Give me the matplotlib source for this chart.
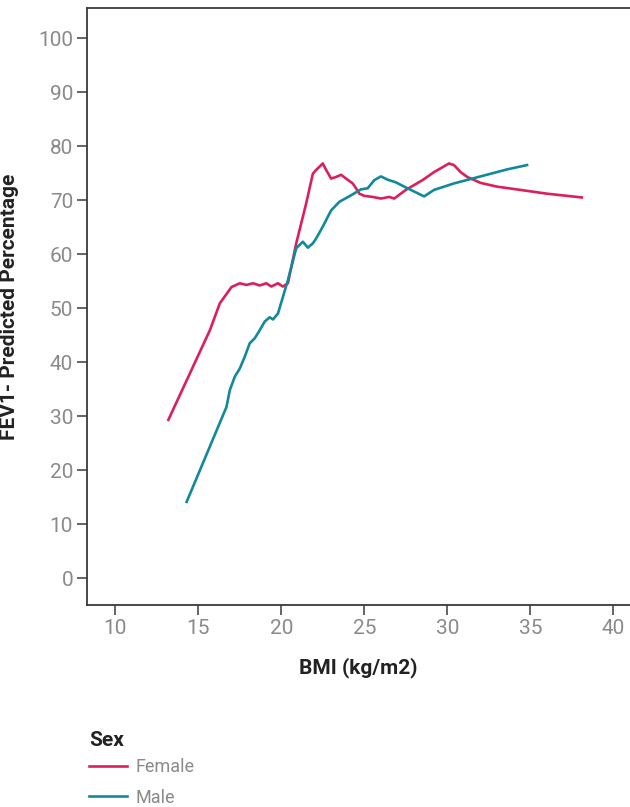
import matplotlib
matplotlib.use("Agg")
import matplotlib.pyplot as plt

plt.rcParams["font.family"] = ["Roboto", "DejaVu Sans"]

# BMI (kg/m2) vs FEV1 predicted percentage
female_bmi = [13.2, 15.7, 16.3, 17.0, 17.5, 17.9, 18.3, 18.7, 19.1, 19.4, 19.8,
              20.1, 20.4, 20.9, 21.5, 21.9, 22.1, 22.5, 22.7, 23.0, 23.3, 23.6,
              23.9, 24.3, 24.5, 24.7, 25.0, 25.5, 26.0, 26.5, 26.8, 27.5, 28.5,
              29.2, 30.1, 30.4, 30.8, 31.2, 32.0, 33.0, 34.4, 36.0, 38.1]
female_fev = [29.3, 45.9, 50.9, 53.9, 54.6, 54.3, 54.6, 54.2, 54.6, 54.0, 54.6,
              54.0, 54.6, 62.0, 69.4, 74.9, 75.6, 76.8, 75.6, 74.0, 74.3, 74.7,
              74.0, 73.1, 72.2, 71.2, 70.8, 70.6, 70.3, 70.6, 70.3, 71.9, 73.7,
              75.2, 76.8, 76.5, 75.2, 74.3, 73.2, 72.5, 71.9, 71.2, 70.5]

male_bmi = [14.3, 16.7, 16.9, 17.2, 17.5, 17.8, 18.1, 18.4, 18.7, 19.0, 19.3,
            19.5, 19.8, 20.1, 20.4, 20.9, 21.3, 21.6, 21.9, 22.1, 22.5, 23.0,
            23.5, 24.2, 24.8, 25.2, 25.6, 26.0, 26.4, 26.9, 27.6, 28.6, 29.2,
            30.4, 32.0, 33.6, 34.8]
male_fev = [14.1, 31.7, 34.8, 37.3, 38.8, 41.0, 43.5, 44.4, 45.9, 47.5, 48.3,
            47.9, 49.0, 52.1, 55.2, 61.1, 62.3, 61.2, 62.0, 62.9, 65.1, 68.1,
            69.7, 70.9, 72.0, 72.2, 73.7, 74.4, 73.8, 73.3, 72.2, 70.7, 71.9,
            73.1, 74.4, 75.7, 76.5]

x_ticks = [10, 15, 20, 25, 30, 35, 40]
y_ticks = [0, 10, 20, 30, 40, 50, 60, 70, 80, 90, 100]

female_color = "#dc1f5b"
male_color = "#11899a"
spine_color = "#3a3a3a"
tick_label_color = "#8a8a8a"

fig = plt.figure(figsize=(6.3, 8.07), dpi=100)
ax = fig.add_axes([87 / 630, 1 - 605 / 807, 543 / 630, 597 / 807])

ax.plot(female_bmi, female_fev, color=female_color, lw=1.9, label="Female",
        solid_joinstyle="round")
ax.plot(male_bmi, male_fev, color=male_color, lw=1.9, label="Male",
        solid_joinstyle="round")

ax.set_xlim(8.3, 41.0)
ax.set_ylim(-5, 105.6)
ax.set_xticks(x_ticks)
ax.set_yticks(y_ticks)

for side in ["left", "bottom", "top"]:
    ax.spines[side].set_color(spine_color)
    ax.spines[side].set_linewidth(1.3)
ax.spines["right"].set_visible(False)

ax.tick_params(axis="both", length=7, width=1.1, color=spine_color,
               labelcolor=tick_label_color, labelsize=15, pad=3)

ax.set_xlabel("BMI (kg/m2)", fontsize=15, fontweight="bold", color="#222222",
              labelpad=14)
ax.set_ylabel("FEV1- Predicted Percentage", fontsize=15, fontweight="bold",
              color="#222222", labelpad=14)

leg = fig.legend(loc="upper left", bbox_to_anchor=(89 / 630, 1 - 731 / 807),
                 frameon=False, title="Sex", fontsize=13, handlelength=2.1,
                 handletextpad=0.45, labelspacing=0.68, borderaxespad=0,
                 borderpad=0)
leg.get_title().set_fontweight("bold")
leg.get_title().set_fontsize(15)
leg.get_title().set_color("#222222")
leg._legend_box.align = "left"
leg._legend_box.sep = 6
for t in leg.get_texts():
    t.set_color(tick_label_color)

fig.savefig("out.png", dpi=100)
